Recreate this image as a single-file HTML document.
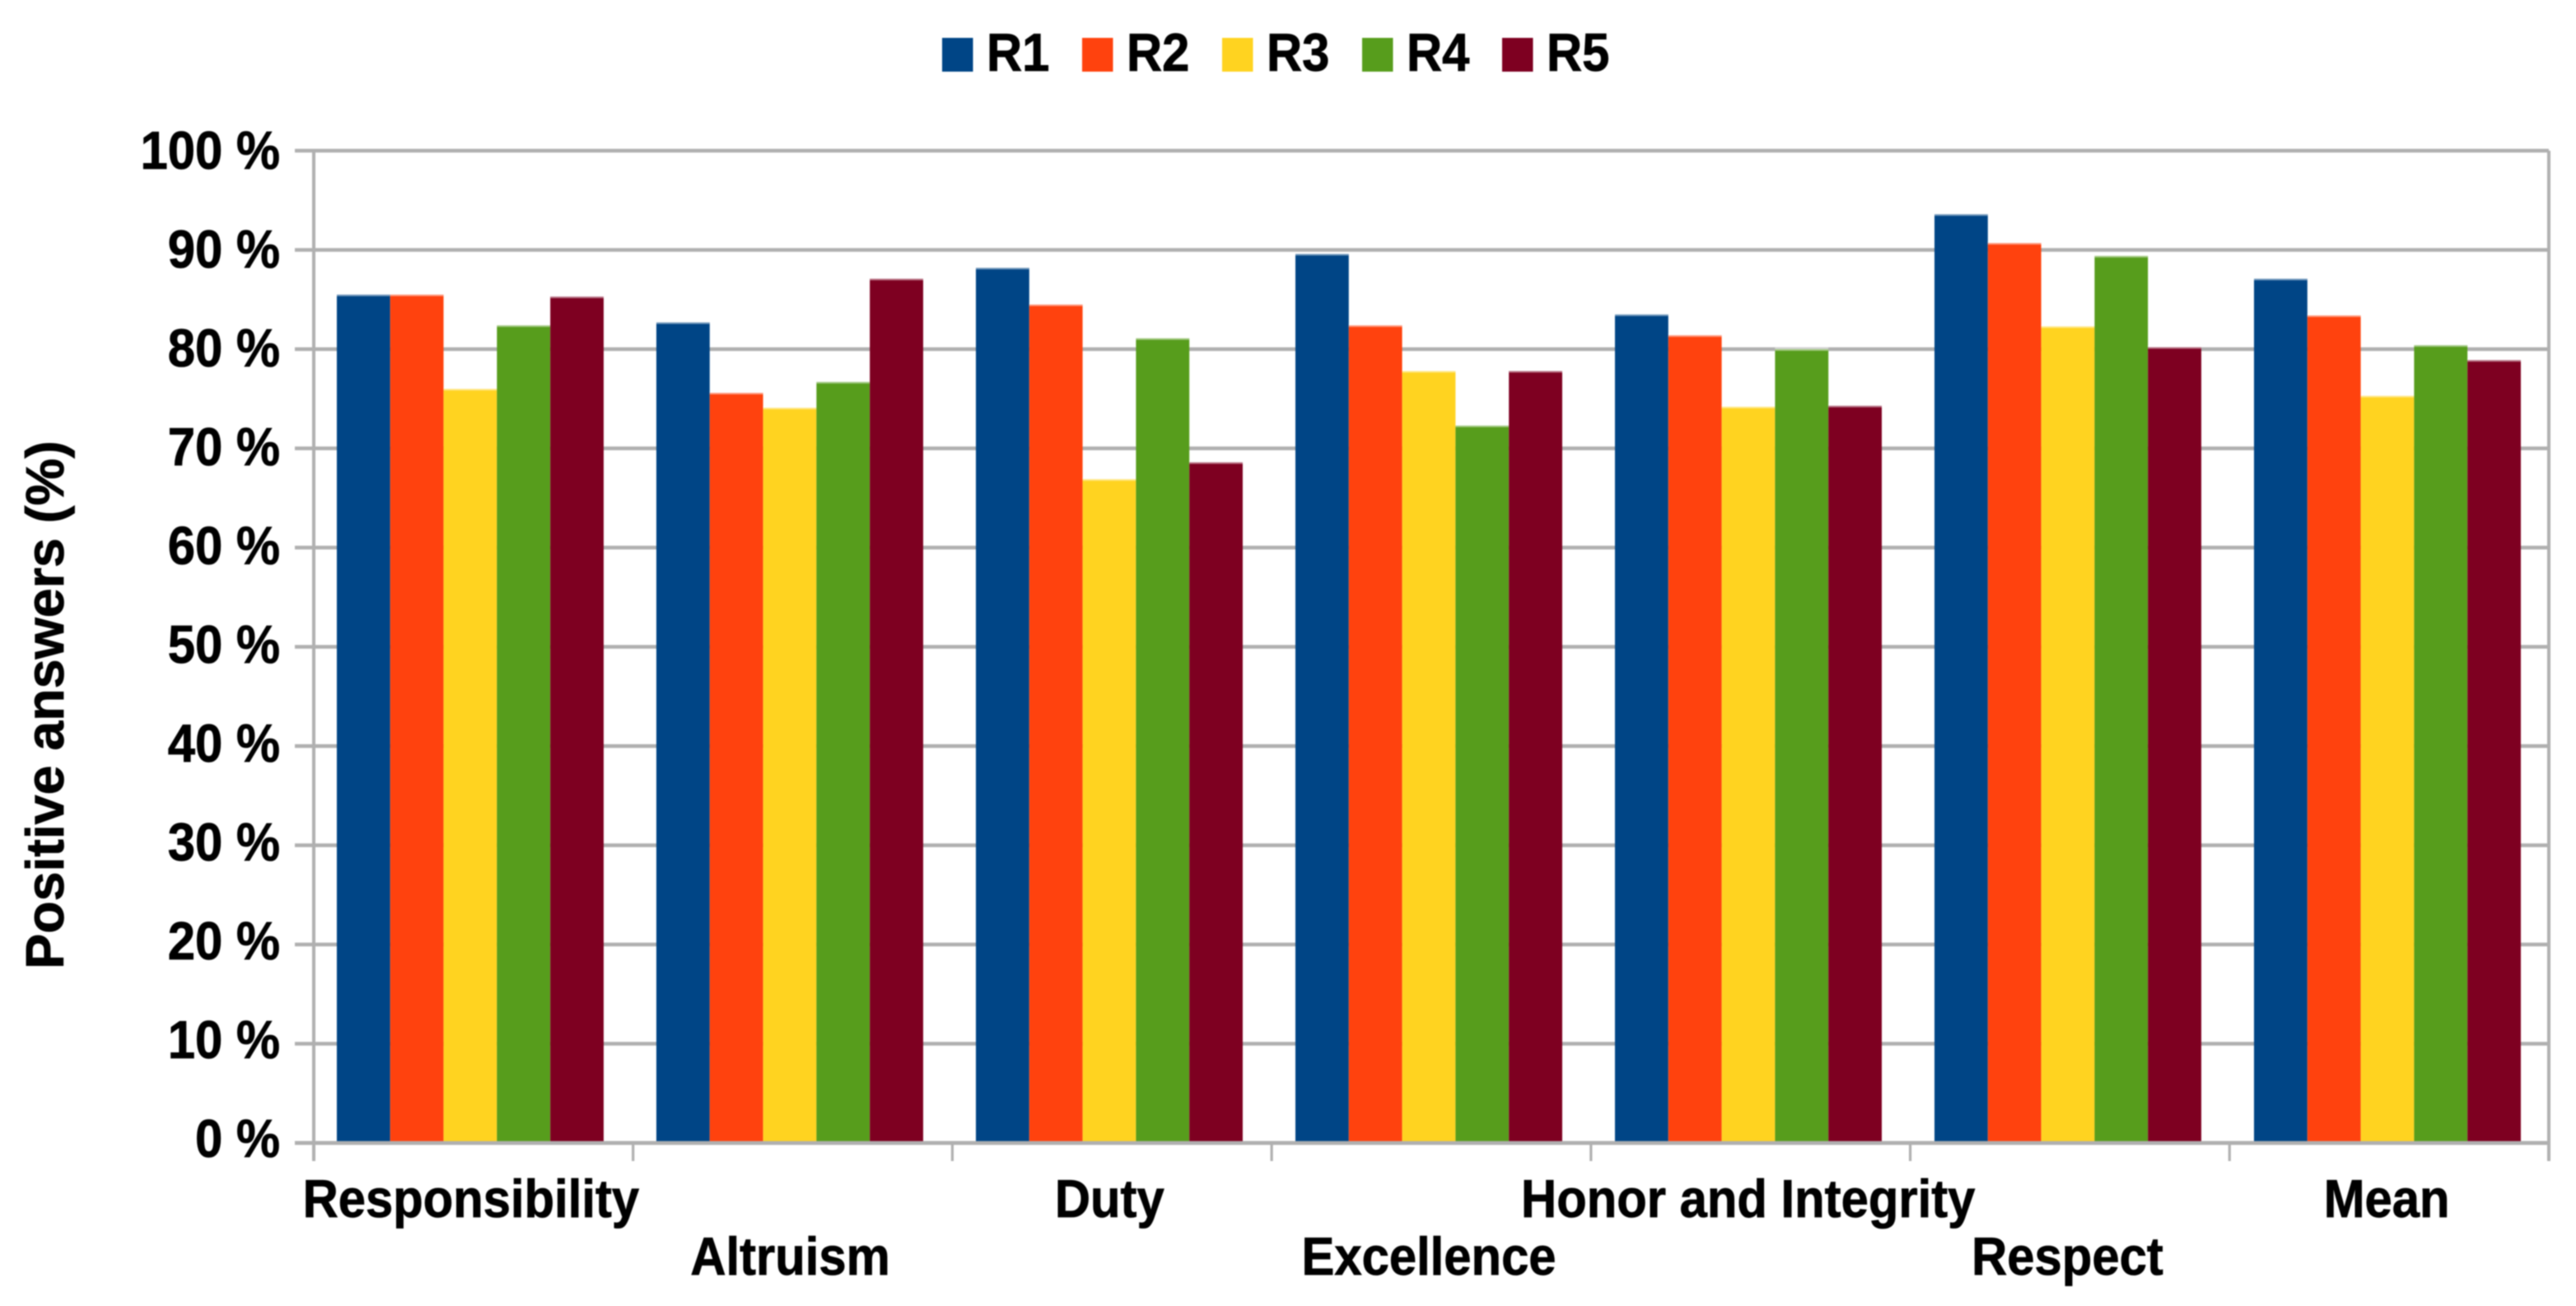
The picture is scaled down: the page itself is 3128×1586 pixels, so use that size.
<!DOCTYPE html>
<html lang="en">
<head>
<meta charset="utf-8">
<title>Positive answers by category</title>
<style>
html,body{margin:0;padding:0;background:#fff}
svg{display:block;filter:blur(0.8px)}
text{font-family:"Liberation Sans",Arial,sans-serif;font-weight:bold;fill:#000;stroke:#000;stroke-width:0.8px}
</style>
</head>
<body>
<svg id="chart" xmlns="http://www.w3.org/2000/svg" width="3128" height="1586" viewBox="0 0 3128 1586"></svg>
<script>
const categories = ["Responsibility", "Altruism", "Duty", "Excellence", "Honor and Integrity", "Respect", "Mean"];
const seriesNames = ["R1", "R2", "R3", "R4", "R5"];
const seriesColors = ["#004586", "#ff420e", "#ffd320", "#579d1c", "#7e0021"];
const r1Values = [85.5, 82.7, 88.2, 89.6, 83.5, 93.6, 87.1];
const r2Values = [85.5, 75.6, 84.5, 82.4, 81.4, 90.7, 83.4];
const r3Values = [76.0, 74.1, 66.9, 77.8, 74.2, 82.3, 75.3];
const r4Values = [82.4, 76.7, 81.1, 72.3, 80.0, 89.4, 80.4];
const r5Values = [85.3, 87.1, 68.6, 77.8, 74.3, 80.2, 78.9];
const yTicks = [0, 10, 20, 30, 40, 50, 60, 70, 80, 90, 100];
const yTitle = "Positive answers (%)";

const svg = document.getElementById('chart');
const NS = 'http://www.w3.org/2000/svg';
const allSeries = [r1Values, r2Values, r3Values, r4Values, r5Values];
const GRID = '#b0b0b0';

const plotLeft = 381, plotRight = 3095, plotTop = 183, plotBottom = 1388;
const barWidth = 64.8, groupStart = 409, groupStep = 388;

function yScale(v) { return plotBottom - (v / 100) * (plotBottom - plotTop); }
function yLabelBase(v) { return 1405 - 12 * v; }
function tickX(i) { return plotLeft + i * (plotRight - plotLeft) / categories.length; }
function barX(c, s) { return groupStart + c * groupStep + s * barWidth; }

function make(tag, attrs, parent) {
  const el = document.createElementNS(NS, tag);
  for (const k in attrs) el.setAttribute(k, attrs[k]);
  (parent || svg).appendChild(el);
  return el;
}
function label(text, x, y, anchor, parent) {
  const el = make('text', {
    transform: 'translate(' + x + ',' + y + ') scale(0.92,1)',
    'font-size': 65,
    'text-anchor': anchor
  }, parent);
  el.textContent = text;
  return el;
}

// Background
const bg = make('rect', {x: 0, y: 0, width: 3128, height: 1586, fill: '#fff'});



// Horizontal grid lines and y tick labels
yTicks.forEach(function (t) {
  const line = make('line', {x1: 358, x2: plotRight, y1: yScale(t), y2: yScale(t), stroke: GRID, 'stroke-width': 4.5});
  
  
  const lab = label(t + ' %', 340, yLabelBase(t), 'end');
  
  
});

// Left and right plot borders
const leftAxis = make('line', {x1: plotLeft, x2: plotLeft, y1: plotTop, y2: 1410, stroke: GRID, 'stroke-width': 4});


const rightAxis = make('line', {x1: plotRight, x2: plotRight, y1: plotTop, y2: 1410, stroke: GRID, 'stroke-width': 4});



// Bars
allSeries.forEach(function (values, s) {
  values.forEach(function (v, c) {
    const x = barX(c, s);
    const y = yScale(v);
    const bar = make('rect', {x: x, y: y, width: barWidth, height: plotBottom - y, fill: seriesColors[s]});
    
    
    const cap = make('rect', {x: x, y: y - 2, width: barWidth, height: 4, fill: '#fff', opacity: 0.45});
    
    
  });
});

// X axis line, ticks and category labels
const xAxis = make('line', {x1: 358, x2: plotRight + 2, y1: plotBottom, y2: plotBottom, stroke: GRID, 'stroke-width': 4.5});


for (let i = 1; i < categories.length; i++) {
  const tick = make('line', {x1: tickX(i), x2: tickX(i), y1: plotBottom, y2: 1410, stroke: GRID, 'stroke-width': 3.2});
  
  
}
categories.forEach(function (name, i) {
  const baseline = i % 2 === 0 ? 1478 : 1548;
  const lab = label(name, tickX(i + 0.5) - 3, baseline, 'middle');
  
  
});

// Y axis title
const title = make('text', {
  transform: 'translate(77,856) rotate(-90)',
  'font-size': 64.5,
  'text-anchor': 'middle'
});
title.textContent = yTitle;



// Legend
seriesNames.forEach(function (name, i) {
  const g = make('g', {});
  
  
  const lx = 1144 + i * 170;
  const sw = make('rect', {x: lx, y: 46, width: 37.5, height: 41, fill: seriesColors[i]}, g);
  
  
  const lab = label(name, lx + 54, 86, 'start', g);
  
  
});
</script>
</body>
</html>
